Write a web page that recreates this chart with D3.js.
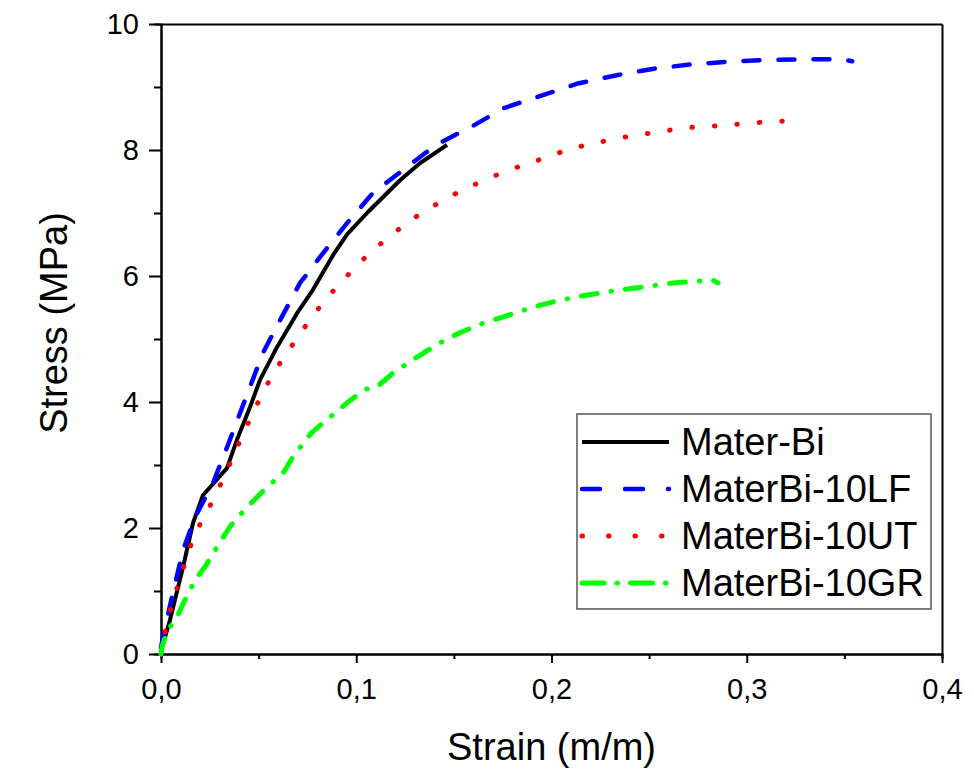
<!DOCTYPE html>
<html>
<head>
<meta charset="utf-8">
<script src="https://cdn.jsdelivr.net/npm/d3@7"></script>
<style>
  body { margin: 0; background: #fff; }
  svg { display: block; font-family: "Liberation Sans", Arial, sans-serif; }
</style>
</head>
<body>
<div id="chart"></div>
<script>
// Datos (deformación m/m, tensión MPa)
const materBi = [[0.0005,0.1],[0.0046,0.54],[0.0113,1.38],[0.0164,2.08],[0.0215,2.52],[0.0338,2.95],[0.0389,3.40],[0.0456,3.92],[0.0507,4.35],[0.0594,4.87],[0.0697,5.41],[0.0778,5.78],[0.0881,6.33],[0.0953,6.66],[0.1055,7.0],[0.1224,7.52],[0.1326,7.79],[0.1465,8.08]];
const materBi10LF = [[0,0.1],[0.001,0.27],[0.0056,0.9],[0.0113,1.65],[0.0174,2.17],[0.0266,2.71],[0.0353,3.40],[0.043,4.03],[0.0522,4.78],[0.061,5.3],[0.0712,5.89],[0.0814,6.30],[0.0953,6.84],[0.1086,7.32],[0.126,7.73],[0.1408,8.08],[0.159,8.37],[0.176,8.67],[0.1956,8.87],[0.214,9.06],[0.234,9.19],[0.2525,9.29],[0.2714,9.36],[0.291,9.40],[0.31,9.43],[0.329,9.44],[0.349,9.44],[0.354,9.41]];
const materBi10UT = [[0,0],[0.003,0.5],[0.0067,0.9],[0.0107,1.29],[0.0149,1.70],[0.02,2.06],[0.0266,2.44],[0.0328,2.84],[0.0379,3.21],[0.0435,3.59],[0.049,3.95],[0.0548,4.30],[0.061,4.62],[0.0676,4.92],[0.0748,5.24],[0.082,5.54],[0.0901,5.83],[0.0983,6.1],[0.108,6.40],[0.1173,6.63],[0.1265,6.86],[0.1367,7.06],[0.1465,7.24],[0.157,7.40],[0.167,7.54],[0.177,7.67],[0.1885,7.79],[0.199,7.9],[0.2095,8.02],[0.2223,8.11],[0.2346,8.19],[0.2469,8.25],[0.2592,8.31],[0.272,8.36],[0.2832,8.38],[0.2955,8.41],[0.3073,8.44],[0.3196,8.46],[0.322,8.48]];
const materBi10GR = [[0,0],[0.0005,0.11],[0.003,0.35],[0.0087,0.62],[0.0123,0.86],[0.0174,1.17],[0.0225,1.38],[0.0287,1.70],[0.0353,2.02],[0.044,2.33],[0.0543,2.65],[0.0625,2.87],[0.0676,3.13],[0.077,3.51],[0.0866,3.76],[0.0958,4.0],[0.1045,4.2],[0.1106,4.24],[0.1188,4.46],[0.131,4.71],[0.1429,4.94],[0.1531,5.10],[0.1649,5.25],[0.1772,5.37],[0.189,5.49],[0.2008,5.59],[0.213,5.67],[0.2248,5.73],[0.2376,5.79],[0.2505,5.84],[0.2622,5.89],[0.276,5.92],[0.2822,5.94],[0.2853,5.89]];

const seriesNames = ['Mater-Bi', 'MaterBi-10LF', 'MaterBi-10UT', 'MaterBi-10GR'];
const seriesData = [materBi, materBi10LF, materBi10UT, materBi10GR];

const xMajorTicks = [0, 0.1, 0.2, 0.3, 0.4];
const xMinorTicks = [0.05, 0.15, 0.25, 0.35];
const yMajorTicks = [0, 2, 4, 6, 8, 10];
const yMinorTicks = [1, 3, 5, 7, 9];

//Estilos de línea
const COLORS = ['#000000', '#0000FF', '#FF0000', '#00FF00'];
const WIDTHS = [4, 4.5, 5, 5];
const DASHES = [null, '16,19', '0.5,22', '16,14,0.5,14'];
const LEGEND_DASHES = [null, '18,25', '0.5,26', '22,13,0.5,13'];

const width = 974, height = 778;
const margin = {top: 24, right: 32, bottom: 124, left: 161};
const innerW = width - margin.left - margin.right,
      innerH = height - margin.top - margin.bottom;

let svg = d3.select('#chart').append('svg')
    .attr('width', width).attr('height', height);

svg.append('rect').attr('width', width).attr('height', height).attr('fill', '#fff');

let g = svg.append('g').attr('transform', 'translate(' + margin.left + ',' + margin.top + ')');

let x = d3.scaleLinear().domain([0, 0.4]).range([0, innerW]);
let y = d3.scaleLinear().domain([0, 10]).range([innerH, 0]);

//Ejes
function styleAxis(sel) {
    sel.select('.domain').attr('stroke', '#000').attr('stroke-width', 2);
    sel.selectAll('.tick line').attr('stroke', '#000').attr('stroke-width', 2);
}

let xMinor = g.append('g').attr('transform', 'translate(0,' + innerH + ')')
    .call(d3.axisBottom(x).tickValues(xMinorTicks).tickSize(5).tickFormat(''));
styleAxis(xMinor);
let xAxis = g.append('g').attr('transform', 'translate(0,' + innerH + ')')
    .call(d3.axisBottom(x).tickValues(xMajorTicks).tickSize(9).tickSizeOuter(0)
        .tickFormat(d => d3.format('.1f')(d).replace('.', ',')));
styleAxis(xAxis);
xAxis.selectAll('text').attr('dy', null).attr('y', 45)
    .attr('font-size', 29).attr('fill', '#000');

let yMinor = g.append('g').call(d3.axisLeft(y).tickValues(yMinorTicks).tickSize(7).tickFormat(''));
styleAxis(yMinor);
let yAxis = g.append('g').call(d3.axisLeft(y).tickValues(yMajorTicks).tickSize(12).tickSizeOuter(0).tickPadding(10));
styleAxis(yAxis);
yAxis.selectAll('text').attr('font-size', 29).attr('fill', '#000');

//Marco superior y derecho
g.append('g').call(d3.axisTop(x).tickValues([]).tickSizeOuter(0))
    .select('.domain').attr('stroke', '#000').attr('stroke-width', 2);
g.append('g').attr('transform', 'translate(' + innerW + ',0)')
    .call(d3.axisRight(y).tickValues([]).tickSizeOuter(0))
    .select('.domain').attr('stroke', '#000').attr('stroke-width', 2);

//Títulos de ejes
svg.append('text')
    .attr('x', margin.left + innerW / 2).attr('y', 760)
    .attr('text-anchor', 'middle').attr('font-size', 38).attr('fill', '#000')
    .text('Strain (m/m)');
svg.append('text')
    .attr('transform', 'translate(67,323) rotate(-90)')
    .attr('text-anchor', 'middle').attr('font-size', 38).attr('fill', '#000')
    .text('Stress (MPa)');

//Curvas
let line = d3.line().x(d => x(d[0])).y(d => y(d[1]));

seriesData.forEach(function(data, i) {
    g.append('path')
        .datum(data)
        .attr('fill', 'none')
        .attr('stroke', COLORS[i])
        .attr('stroke-width', WIDTHS[i])
        .attr('stroke-linecap', i == 0 ? 'butt' : 'round')
        .attr('stroke-linejoin', 'round')
        .attr('stroke-dasharray', DASHES[i])
        .attr('d', line);
});

//Leyenda
let legend = svg.append('g').attr('transform', 'translate(577,414)');
legend.append('rect')
    .attr('width', 354).attr('height', 195)
    .attr('fill', '#fff').attr('stroke', '#555').attr('stroke-width', 1.5);

seriesNames.forEach(function(name, i) {
    let cy = 28 + i * 47;
    legend.append('line')
        .attr('x1', 5).attr('x2', 92).attr('y1', cy).attr('y2', cy)
        .attr('stroke', COLORS[i])
        .attr('stroke-width', WIDTHS[i])
        .attr('stroke-linecap', i == 0 ? 'butt' : 'round')
        .attr('stroke-dasharray', LEGEND_DASHES[i]);
    legend.append('text')
        .attr('x', 104).attr('y', cy + 13)
        .attr('font-size', 38).attr('fill', '#000')
        .text(name);
});
</script>
</body>
</html>
